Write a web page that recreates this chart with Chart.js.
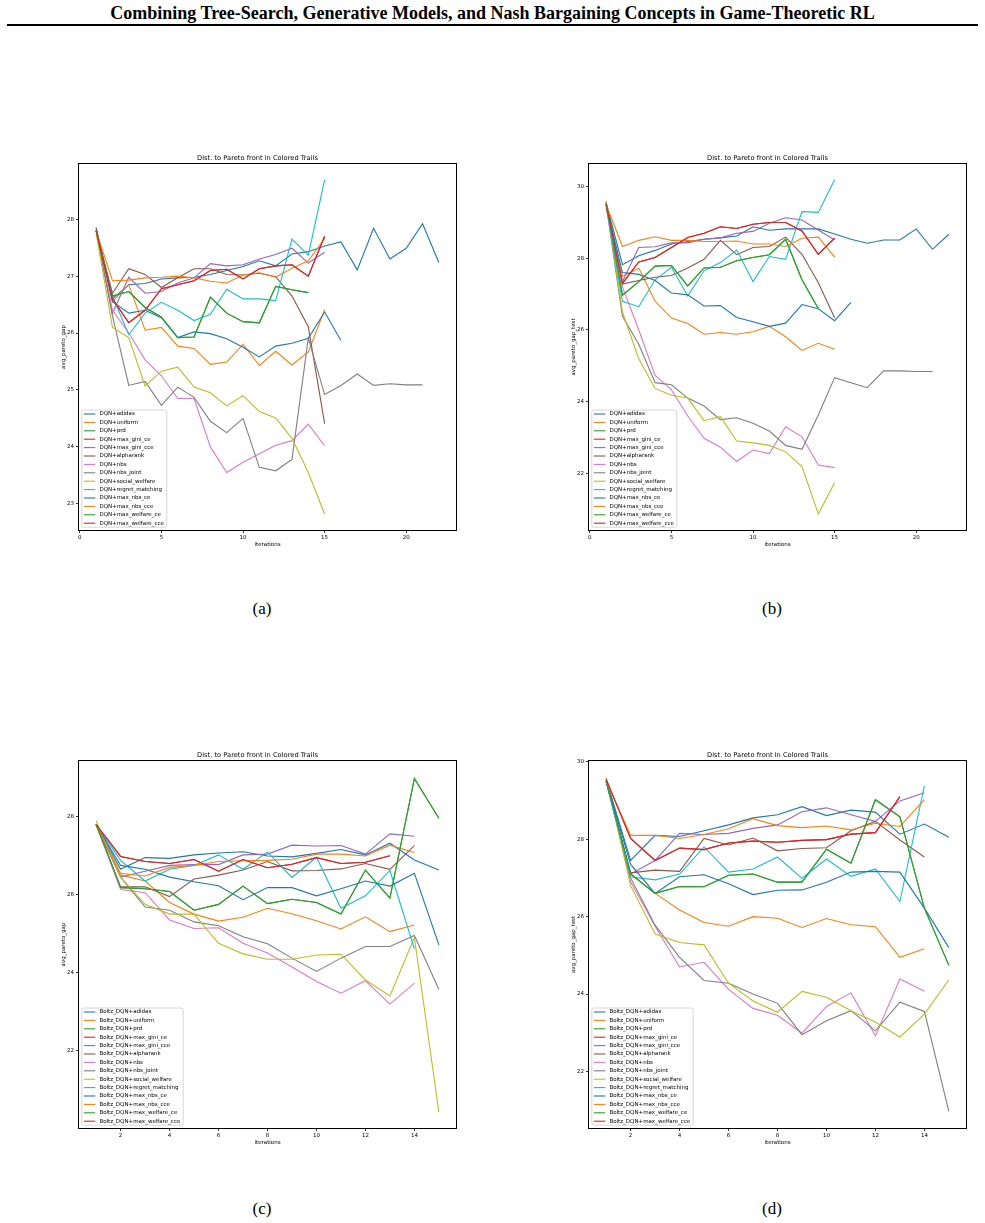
<!DOCTYPE html>
<html>
<head>
<meta charset="utf-8">
<script src="https://cdn.jsdelivr.net/npm/chart.js@4.4.1/dist/chart.umd.min.js"></script>
<style>
  body { margin: 0; background: #fff; }
  #pagina { position: relative; width: 985px; height: 1223px; overflow: hidden; background: #fff; }
  .cabecalho { position: absolute; left: 0; top: 3px; width: 985px; line-height: 18px; text-align: center; font: bold 18px "Liberation Serif"; color: #000; }
  .linha { position: absolute; left: 7px; top: 23.5px; width: 971px; height: 2px; background: #000; }
  .letra { position: absolute; width: 60px; line-height: 18px; text-align: center; font: 17px "Liberation Serif"; color: #000; }
  canvas { position: absolute; }
</style>
</head>
<body>
<div id="pagina">
  <div class="cabecalho">Combining Tree-Search, Generative Models, and Nash Bargaining Concepts in Game-Theoretic RL</div>
  <div class="linha"></div>
  <div class="letra" style="left:232px; top:599px">(a)</div>
  <div class="letra" style="left:742px; top:599px">(b)</div>
  <div class="letra" style="left:232px; top:1199px">(c)</div>
  <div class="letra" style="left:742px; top:1199px">(d)</div>
</div>
<script>
const nomesDQN = ['DQN+adidas', 'DQN+uniform', 'DQN+prd', 'DQN+max_gini_ce', 'DQN+max_gini_cce', 'DQN+alpharank', 'DQN+nbs', 'DQN+nbs_joint', 'DQN+social_welfare', 'DQN+regret_matching', 'DQN+max_nbs_ce', 'DQN+max_nbs_cce', 'DQN+max_welfare_ce', 'DQN+max_welfare_cce'];
const nomesBoltz = ['Boltz_DQN+adidas', 'Boltz_DQN+uniform', 'Boltz_DQN+prd', 'Boltz_DQN+max_gini_ce', 'Boltz_DQN+max_gini_cce', 'Boltz_DQN+alpharank', 'Boltz_DQN+nbs', 'Boltz_DQN+nbs_joint', 'Boltz_DQN+social_welfare', 'Boltz_DQN+regret_matching', 'Boltz_DQN+max_nbs_ce', 'Boltz_DQN+max_nbs_cce', 'Boltz_DQN+max_welfare_ce', 'Boltz_DQN+max_welfare_cce'];

// (a) DQN, avg_pareto_gap  (valores a partir da iteração 1)
const a_adidas = [27.85, 26.6, 26.85, 26.87, 26.95, 26.97, 26.98, 27.03, 27.1, 27.17, 27.27, 27.18, 27.39, 27.43, 27.53, 27.6, 27.11, 27.84, 27.3, 27.49, 27.92, 27.24];
const a_uniform = [27.8, 26.55, 26.85, 26.05, 26.1, 25.77, 25.73, 25.45, 25.49, 25.8, 25.43, 25.68, 25.44, 25.67, 26.41];
const a_prd = [27.8, 26.65, 26.73, 26.45, 26.28, 25.92, 25.93, 26.63, 26.35, 26.2, 26.18, 26.82, 26.76, 26.71];
const a_max_gini_ce = [27.8, 26.6, 26.18, 26.4, 26.78, 26.85, 26.92, 27.1, 27.12, 26.95, 27.13, 27.18, 27.2, 27.0, 27.7];
const a_max_gini_cce = [27.8, 26.35, 26.98, 26.7, 26.73, 26.88, 26.97, 27.22, 27.18, 27.2, 27.3, 27.38, 27.49, 27.23, 27.42];
const a_alpharank = [27.8, 26.7, 27.13, 27.03, 26.8, 26.97, 27.13, 27.13, 27.03, 27.02, 27.05, 26.99, 26.65, 26.11, 24.41];
const a_nbs = [27.8, 26.4, 26.0, 25.53, 25.25, 24.85, 24.85, 24.0, 23.55, 23.73, 23.88, 24.03, 24.11, 24.4, 24.02];
const a_nbs_joint = [27.8, 26.3, 25.08, 25.15, 24.73, 25.05, 24.87, 24.45, 24.25, 24.5, 23.64, 23.58, 23.78, 25.91, 24.92, 25.08, 25.28, 25.08, 25.11, 25.09, 25.09];
const a_social_welfare = [27.75, 26.1, 25.92, 25.07, 25.33, 25.4, 25.05, 24.95, 24.72, 24.9, 24.62, 24.51, 24.15, 23.55, 22.82];
const a_regret_matching = [27.8, 26.65, 25.97, 26.35, 26.54, 26.4, 26.22, 26.33, 26.77, 26.6, 26.6, 26.57, 27.65, 27.37, 28.69];
const a_max_nbs_ce = [27.85, 26.55, 26.35, 26.4, 26.27, 25.92, 26.02, 25.99, 25.9, 25.75, 25.58, 25.77, 25.82, 25.91, 26.37, 25.87];
const a_max_nbs_cce = [27.8, 26.92, 26.93, 26.97, 26.98, 27.0, 26.97, 26.91, 26.88, 27.02, 27.06, 26.98, 27.14, 27.27, 27.66];
const a_max_welfare_ce = [27.8, 26.65, 26.73, 26.45, 26.28, 25.92, 25.93, 26.63, 26.35, 26.2, 26.18, 26.82, 26.76, 26.71];
const a_max_welfare_cce = [27.8, 26.6, 26.18, 26.4, 26.78, 26.85, 26.92, 27.1, 27.12, 26.95, 27.13, 27.18, 27.2, 27.0, 27.7];

// (b) DQN, avg_pareto_gap_test
const b_adidas = [29.55, 27.82, 28.07, 28.22, 28.4, 28.47, 28.53, 28.57, 28.62, 28.88, 28.78, 28.82, 28.82, 28.82, 28.68, 28.53, 28.42, 28.51, 28.51, 28.82, 28.25, 28.67];
const b_uniform = [29.4, 27.5, 27.72, 26.8, 26.33, 26.18, 25.88, 25.93, 25.88, 25.95, 26.1, 25.81, 25.43, 25.63, 25.46];
const b_prd = [29.55, 26.97, 27.35, 27.78, 27.8, 27.23, 27.73, 27.75, 27.93, 28.02, 28.1, 28.53, 27.4, 26.6];
const b_max_gini_ce = [29.5, 27.3, 27.9, 28.02, 28.3, 28.58, 28.7, 28.88, 28.83, 28.95, 29.0, 29.0, 28.76, 28.11, 28.56];
const b_max_gini_cce = [29.5, 27.35, 28.3, 28.32, 28.43, 28.43, 28.53, 28.57, 28.7, 28.75, 28.98, 29.13, 29.07, 28.79, 28.51];
const b_alpharank = [29.5, 27.28, 27.38, 27.47, 27.52, 27.73, 27.97, 28.5, 28.1, 28.3, 28.33, 28.59, 28.11, 27.32, 26.34];
const b_nbs = [29.5, 27.2, 26.0, 24.73, 24.33, 23.6, 22.98, 22.73, 22.33, 22.65, 22.55, 23.3, 23.02, 22.23, 22.16];
const b_nbs_joint = [29.5, 26.38, 25.6, 24.53, 24.47, 24.1, 23.88, 23.5, 23.55, 23.4, 23.18, 22.78, 22.67, 23.63, 24.67, 24.53, 24.39, 24.86, 24.86, 24.84, 24.84];
const b_social_welfare = [29.6, 26.5, 25.2, 24.37, 24.18, 24.1, 23.47, 23.58, 22.9, 22.85, 22.78, 22.6, 22.19, 20.87, 21.74];
const b_regret_matching = [29.5, 26.8, 26.65, 27.4, 27.75, 26.95, 27.65, 27.88, 28.23, 27.35, 28.05, 27.97, 29.3, 29.28, 30.19];
const b_max_nbs_ce = [29.5, 27.6, 27.55, 27.38, 27.03, 26.98, 26.67, 26.68, 26.35, 26.23, 26.1, 26.19, 26.71, 26.59, 26.26, 26.77];
const b_max_nbs_cce = [29.5, 28.33, 28.5, 28.6, 28.5, 28.5, 28.47, 28.47, 28.48, 28.4, 28.4, 28.33, 28.56, 28.59, 28.03];
const b_max_welfare_ce = [29.55, 26.97, 27.35, 27.78, 27.8, 27.23, 27.73, 27.75, 27.93, 28.02, 28.1, 28.53, 27.4, 26.6];
const b_max_welfare_cce = [29.5, 27.3, 27.9, 28.02, 28.3, 28.58, 28.7, 28.88, 28.83, 28.95, 29.0, 29.0, 28.76, 28.11, 28.56];

// (c) Boltz_DQN, avg_pareto_gap
const c_adidas = [27.8, 26.65, 26.95, 26.93, 27.02, 27.07, 27.1, 26.99, 26.97, 27.06, 27.16, 27.02, 27.32, 26.89, 26.63];
const c_uniform = [27.8, 26.5, 26.35, 25.8, 25.5, 25.32, 25.42, 25.65, 25.51, 25.33, 25.12, 25.43, 25.05, 25.22];
const c_prd = [27.8, 26.18, 26.15, 26.08, 25.6, 25.75, 26.22, 25.77, 25.88, 25.8, 25.5, 26.63, 25.91, 28.98, 27.96];
const c_max_gini_ce = [27.8, 26.98, 26.85, 26.8, 26.9, 26.6, 26.9, 26.69, 26.78, 26.95, 26.8, 26.83, 27.0];
const c_max_gini_cce = [27.8, 26.45, 26.6, 26.75, 26.77, 26.77, 27.02, 27.04, 27.27, 27.25, 27.26, 27.04, 27.56, 27.5];
const c_alpharank = [27.8, 26.2, 26.2, 25.95, 26.4, 26.5, 26.63, 26.85, 26.61, 26.62, 26.66, 26.8, 26.65, 27.26];
const c_nbs = [27.8, 26.13, 26.05, 25.35, 25.13, 25.15, 24.75, 24.5, 24.14, 23.77, 23.47, 23.79, 23.19, 23.73];
const c_nbs_joint = [27.8, 26.45, 25.68, 25.6, 25.3, 25.2, 24.92, 24.74, 24.37, 24.03, 24.37, 24.67, 24.67, 24.95, 23.57];
const c_social_welfare = [27.9, 26.45, 25.75, 25.5, 25.5, 24.75, 24.48, 24.34, 24.34, 24.45, 24.47, 23.81, 23.4, 24.9, 20.42];
const c_regret_matching = [27.8, 26.88, 26.35, 26.65, 26.75, 27.02, 26.65, 27.09, 26.44, 26.96, 25.65, 25.97, 26.62, 24.61];
const c_max_nbs_ce = [27.8, 26.75, 26.65, 26.45, 26.33, 26.23, 25.87, 26.18, 26.18, 25.97, 26.15, 26.35, 26.22, 26.55, 24.71];
const c_max_nbs_cce = [27.8, 26.55, 26.48, 26.7, 26.75, 26.85, 26.87, 26.88, 26.91, 27.04, 27.04, 26.99, 27.27, 27.08];
const c_max_welfare_ce = [27.8, 26.18, 26.15, 26.08, 25.6, 25.75, 26.22, 25.77, 25.88, 25.8, 25.5, 26.63, 25.91, 28.98, 27.96];
const c_max_welfare_cce = [27.8, 26.98, 26.85, 26.8, 26.9, 26.6, 26.9, 26.69, 26.78, 26.95, 26.8, 26.83, 27.0];

// (d) Boltz_DQN, avg_pareto_gap_test
const d_adidas = [29.55, 27.45, 28.1, 28.07, 28.22, 28.37, 28.55, 28.63, 28.84, 28.61, 28.75, 28.7, 28.13, 28.39, 28.05];
const d_uniform = [29.5, 27.1, 26.6, 26.17, 25.85, 25.75, 26.0, 25.96, 25.72, 25.95, 25.79, 25.74, 24.95, 25.17];
const d_prd = [29.5, 27.1, 26.6, 26.78, 26.77, 27.07, 27.1, 26.89, 26.89, 27.74, 27.38, 29.02, 28.58, 26.22, 24.74];
const d_max_gini_ce = [29.55, 28.02, 27.45, 27.77, 27.73, 27.9, 27.95, 27.92, 27.97, 27.99, 28.13, 28.17, 29.1];
const d_max_gini_cce = [29.5, 27.1, 27.45, 28.15, 28.12, 28.15, 28.28, 28.37, 28.71, 28.81, 28.63, 28.46, 28.99, 29.2];
const d_alpharank = [29.5, 27.13, 27.2, 27.17, 28.02, 27.85, 28.03, 27.7, 27.76, 27.78, 28.22, 28.46, 27.98, 27.54];
const d_nbs = [29.5, 26.9, 25.75, 24.7, 24.82, 24.12, 23.63, 23.45, 22.99, 23.68, 24.03, 22.92, 24.39, 24.07];
const d_nbs_joint = [29.5, 27.0, 25.78, 24.95, 24.35, 24.28, 24.0, 23.76, 22.95, 23.31, 23.57, 23.05, 23.79, 23.55, 20.97];
const d_social_welfare = [29.6, 26.8, 25.55, 25.33, 25.27, 24.28, 23.82, 23.53, 24.07, 23.92, 23.57, 23.28, 22.89, 23.48, 24.37];
const d_regret_matching = [29.5, 27.03, 26.95, 27.1, 27.8, 27.15, 27.23, 27.54, 26.99, 27.49, 27.04, 27.23, 26.39, 29.38];
const d_max_nbs_ce = [29.5, 27.35, 26.6, 27.03, 27.08, 26.85, 26.57, 26.68, 26.69, 26.89, 27.15, 27.17, 27.15, 26.22, 25.2];
const d_max_nbs_cce = [29.5, 28.1, 28.1, 28.02, 28.12, 28.27, 28.53, 28.35, 28.3, 28.34, 28.24, 28.41, 28.33, 29.02];
const d_max_welfare_ce = [29.5, 27.1, 26.6, 26.78, 26.77, 27.07, 27.1, 26.89, 26.89, 27.74, 27.38, 29.02, 28.58, 26.22, 24.74];
const d_max_welfare_cce = [29.55, 28.02, 27.45, 27.77, 27.73, 27.9, 27.95, 27.92, 27.97, 27.99, 28.13, 28.17, 29.1];

const cores = ['#1f77b4', '#ff7f0e', '#2ca02c', '#d62728', '#9467bd', '#8c564b', '#e377c2', '#7f7f7f', '#bcbd22', '#17becf', '#1f77b4', '#ff7f0e', '#2ca02c', '#d62728'];

Chart.defaults.font.family = 'DejaVu Sans';

// moldura e legenda dentro da área do gráfico (canto inferior esquerdo)
const molduraLegenda = {
  id: 'molduraLegenda',
  afterDraw(chart) {
    const { ctx, chartArea } = chart;
    const ds = chart.data.datasets;
    ctx.save();
    ctx.strokeStyle = '#000';
    ctx.lineWidth = 1;
    ctx.strokeRect(Math.round(chartArea.left) - 0.5, Math.round(chartArea.top) - 0.5,
      Math.round(chartArea.right - chartArea.left) + 1, Math.round(chartArea.bottom - chartArea.top) + 1);

    ctx.font = '5.5px "DejaVu Sans"';
    let maxW = 0;
    ds.forEach(d => { maxW = Math.max(maxW, ctx.measureText(d.label).width); });
    const passo = 8.4;
    const w = maxW + 20.5;
    const h = (ds.length - 1) * passo + 8;
    const x0 = chartArea.left + 2.8;
    const y0 = chartArea.bottom - 2.8 - h;
    ctx.fillStyle = 'rgba(255,255,255,0.8)';
    ctx.strokeStyle = '#cccccc';
    ctx.lineWidth = 0.8;
    ctx.beginPath();
    if (ctx.roundRect) ctx.roundRect(x0, y0, w, h, 2); else ctx.rect(x0, y0, w, h);
    ctx.fill();
    ctx.stroke();
    ctx.textBaseline = 'middle';
    ds.forEach((d, i) => {
      const y = y0 + 4 + i * passo;
      ctx.strokeStyle = d.borderColor;
      ctx.lineWidth = 1.1;
      ctx.beginPath();
      ctx.moveTo(x0 + 2, y);
      ctx.lineTo(x0 + 13.5, y);
      ctx.stroke();
      ctx.fillStyle = '#000';
      ctx.fillText(d.label, x0 + 17.6, y);
    });
    ctx.restore();
  }
};

function eixo(min, max, passo, titulo, horizontal) {
  return {
    type: 'linear',
    min: min,
    max: max,
    ticks: {
      stepSize: passo, includeBounds: false, autoSkip: false, maxRotation: 0,
      padding: horizontal ? 1.5 : 2, color: '#000', font: { size: 5.5 }
    },
    grid: { drawOnChartArea: false, drawTicks: true, tickLength: 3, color: '#000', lineWidth: 0.8 },
    border: { display: false },
    title: {
      display: true, text: titulo, color: '#000', font: { size: 5.5 },
      padding: horizontal ? { top: 0, bottom: 0.7 } : { top: 1, bottom: 0 }
    },
    afterFit: horizontal ? (s) => { s.height = 19; } : (s) => { s.width = 20; }
  };
}

// l, t, r, b = área do gráfico em coordenadas da página
function montarGrafico(l, t, r, b, nomes, series, xmin, xmax, xpasso, ymin, ymax, ypasso, ytitulo) {
  const canvas = document.createElement('canvas');
  canvas.width = (r - l) + 40;
  canvas.height = (b - t) + 14 + 19;
  canvas.style.left = (l - 20) + 'px';
  canvas.style.top = (t - 14) + 'px';
  document.getElementById('pagina').appendChild(canvas);

  const datasets = series.map((valores, i) => ({
    label: nomes[i],
    data: valores.map((v, k) => ({ x: k + 1, y: v })),
    borderColor: cores[i],
    backgroundColor: cores[i],
    borderWidth: 1.1,
    pointRadius: 0,
    tension: 0,
    fill: false,
    order: series.length - i
  }));

  new Chart(canvas, {
    type: 'line',
    data: { datasets: datasets },
    options: {
      responsive: false,
      maintainAspectRatio: false,
      devicePixelRatio: 1,
      animation: false,
      events: [],
      layout: { padding: { left: 0, right: 20, top: 0, bottom: 0 } },
      plugins: {
        legend: { display: false },
        tooltip: { enabled: false },
        title: {
          display: true,
          text: 'Dist. to Pareto front in Colored Trails',
          color: '#000',
          font: { size: 6.7, weight: 'normal' },
          padding: { top: 4.3, bottom: 1.66 }
        }
      },
      scales: {
        x: eixo(xmin, xmax, xpasso, 'iterations', true),
        y: eixo(ymin, ymax, ypasso, ytitulo, false)
      }
    },
    plugins: [molduraLegenda]
  });
}

montarGrafico(79, 164, 456, 530, nomesDQN,
  [a_adidas, a_uniform, a_prd, a_max_gini_ce, a_max_gini_cce, a_alpharank, a_nbs, a_nbs_joint, a_social_welfare, a_regret_matching, a_max_nbs_ce, a_max_nbs_cce, a_max_welfare_ce, a_max_welfare_cce],
  -0.05, 23.05, 5, 22.54, 28.97, 1, 'avg_pareto_gap');

montarGrafico(589, 164, 966, 530, nomesDQN,
  [b_adidas, b_uniform, b_prd, b_max_gini_ce, b_max_gini_cce, b_alpharank, b_nbs, b_nbs_joint, b_social_welfare, b_regret_matching, b_max_nbs_ce, b_max_nbs_cce, b_max_welfare_ce, b_max_welfare_cce],
  -0.05, 23.05, 5, 20.42, 30.63, 2, 'avg_pareto_gap_test');

montarGrafico(79, 761, 456, 1128, nomesBoltz,
  [c_adidas, c_uniform, c_prd, c_max_gini_ce, c_max_gini_cce, c_alpharank, c_nbs, c_nbs_joint, c_social_welfare, c_regret_matching, c_max_nbs_ce, c_max_nbs_cce, c_max_welfare_ce, c_max_welfare_cce],
  0.3, 15.7, 2, 20.01, 29.43, 2, 'avg_pareto_gap');

montarGrafico(589, 761, 966, 1128, nomesBoltz,
  [d_adidas, d_uniform, d_prd, d_max_gini_ce, d_max_gini_cce, d_alpharank, d_nbs, d_nbs_joint, d_social_welfare, d_regret_matching, d_max_nbs_ce, d_max_nbs_cce, d_max_welfare_ce, d_max_welfare_cce],
  0.3, 15.7, 2, 20.54, 30.02, 2, 'avg_pareto_gap_test');
</script>
</body>
</html>
